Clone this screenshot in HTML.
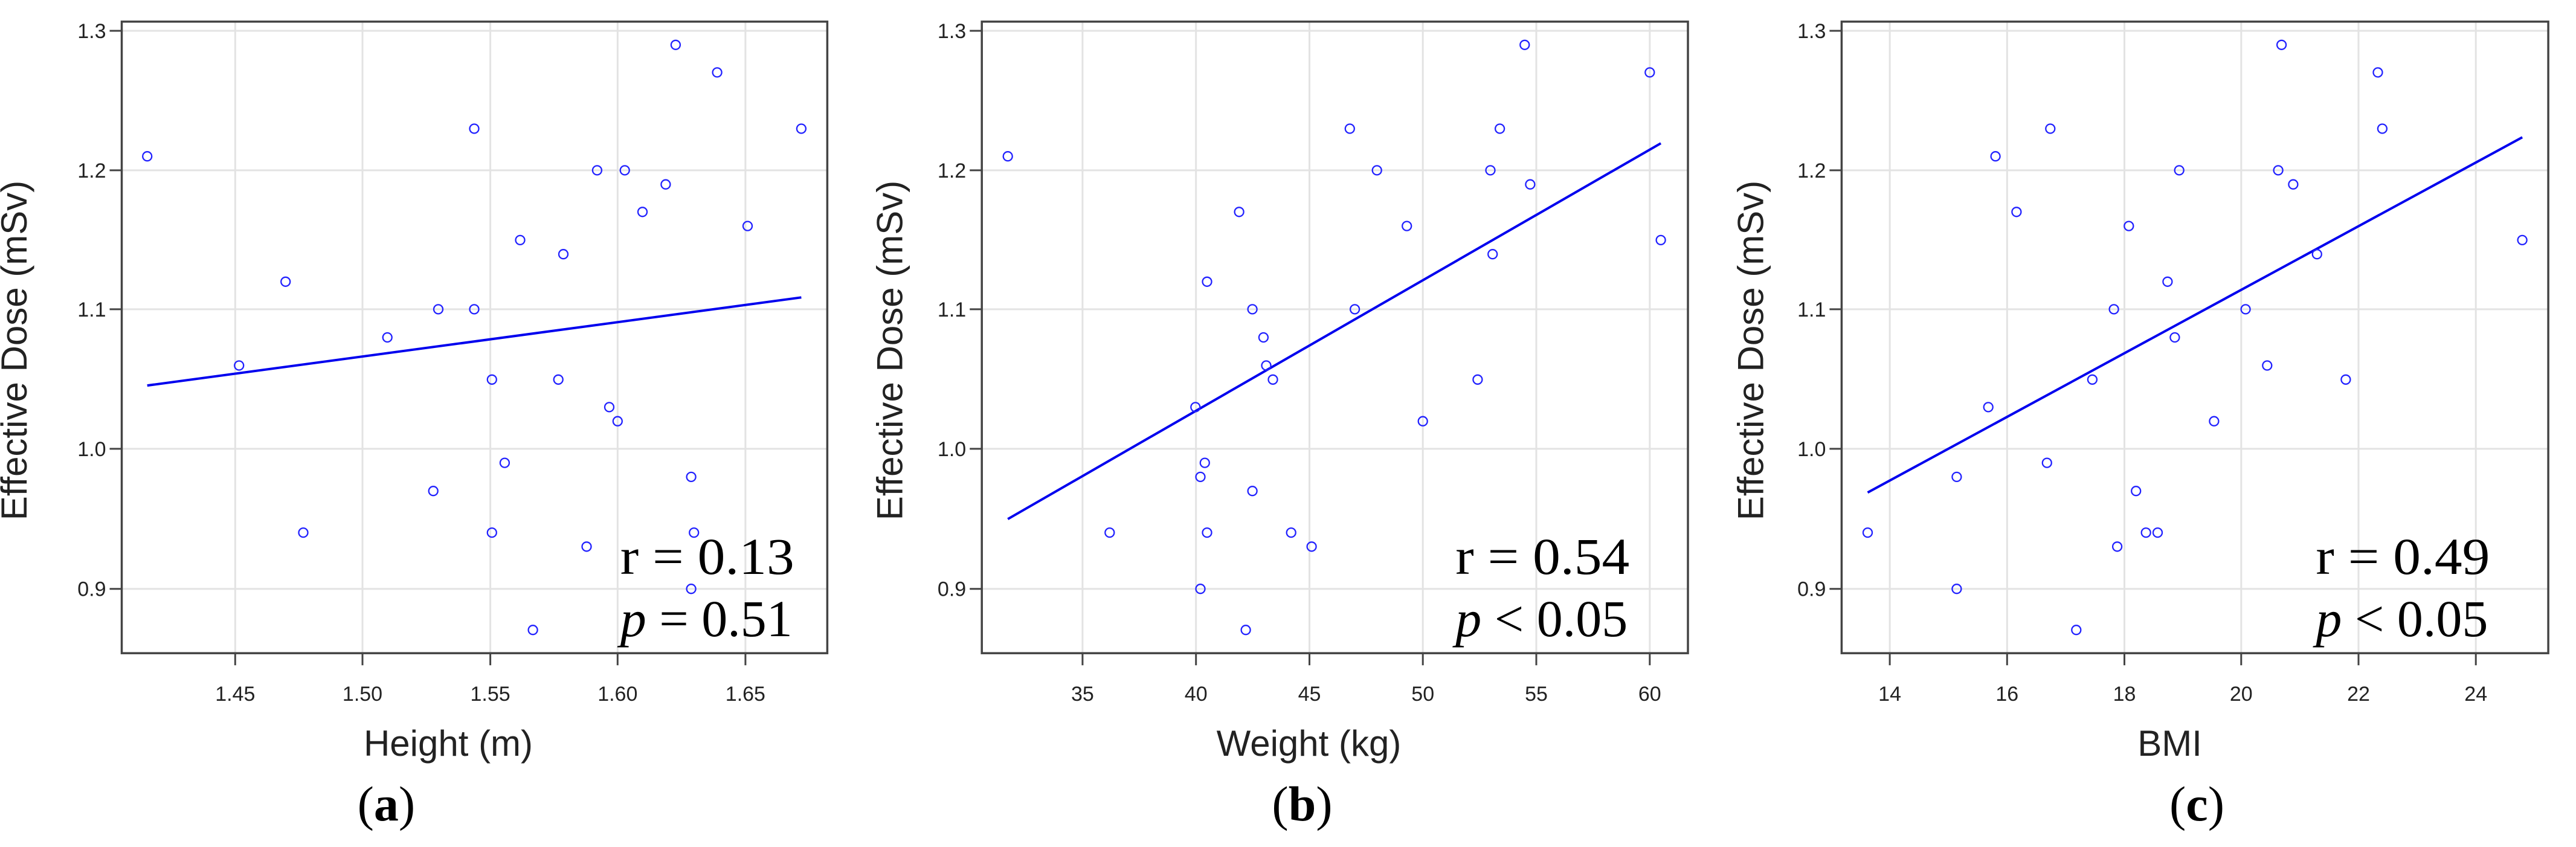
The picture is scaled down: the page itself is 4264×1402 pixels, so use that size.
<!DOCTYPE html>
<html><head><meta charset="utf-8">
<style>html,body{margin:0;padding:0;background:#fff;}svg{display:block;}</style>
</head><body>
<svg id="s" xmlns="http://www.w3.org/2000/svg" width="4264" height="1402" viewBox="0 0 4264 1402"></svg>
<script>
const SX=0.916, SY=0.895;
const panels=[
 {off:0, box:[220,1495], xt:[[425,'1.45'],[655,'1.50'],[886,'1.55'],[1116,'1.60'],[1347,'1.65']],
  pts:[[266,289],[432,676],[516,521],[548,985],[700,624],[783,908],[792,572],[857,238],[857,572],[889,702],[889,985],[912,856],[940,444],[963,1165],[1009,702],[1018,470],[1060,1011],[1079,315],[1101,753],[1116,779],[1129,315],[1161,392],[1203,341],[1221,83],[1249,882],[1254,985],[1249,1089],[1296,134],[1351,418],[1448,238]],
  line:[266,713,1448,550], ylx:48, xl:'Height (m)', xlc:810, lab:'a', labc:698, tx:1121, r:'r = 0.13', p:'= 0.51'},
 {off:1420, box:[224,1500], xt:[[406,'35'],[611,'40'],[816,'45'],[1021,'50'],[1226,'55'],[1431,'60']],
  pts:[[271,289],[455,985],[610,753],[619,882],[619,1089],[627,856],[631,521],[631,985],[689,392],[701,1165],[713,572],[713,908],[733,624],[738,676],[750,702],[783,985],[820,1011],[889,238],[898,572],[938,315],[992,418],[1021,779],[1120,702],[1143,315],[1147,470],[1160,238],[1205,83],[1215,341],[1431,134],[1451,444]],
  line:[271,960,1451,265], ylx:80, xl:'Weight (kg)', xlc:815, lab:'b', labc:803, tx:1080, r:'r = 0.54', p:'< 0.05'},
 {off:2824, box:[245,1522], xt:[[332,'14'],[544,'16'],[756,'18'],[967,'20'],[1179,'22'],[1391,'24']],
  pts:[[292,985],[453,882],[453,1089],[510,753],[523,289],[561,392],[616,856],[622,238],[669,1165],[698,702],[737,572],[743,1011],[764,418],[777,908],[795,985],[816,985],[834,521],[847,624],[855,315],[918,779],[975,572],[1014,676],[1034,315],[1040,83],[1061,341],[1104,470],[1156,702],[1214,134],[1222,238],[1475,444]],
  line:[292,911,1475,254], ylx:103, xl:'BMI', xlc:838, lab:'c', labc:887, tx:1102, r:'r = 0.49', p:'< 0.05'}
];
const yt=[[57,'1.3'],[315,'1.2'],[572,'1.1'],[830,'1.0'],[1089,'0.9']];
let h='';
const sans='font-family="Liberation Sans, DejaVu Sans, sans-serif"';
const serif='font-family="Liberation Serif, DejaVu Serif, serif"';
for(const P of panels){
  const X=v=>(P.off+v*SX).toFixed(1), Y=v=>(v*SY).toFixed(1);
  const L=P.box[0], R=P.box[1], T=40, B=1208;
  // grid
  for(const [gy] of yt) h+=`<line x1="${X(L)}" x2="${X(R)}" y1="${Y(gy)}" y2="${Y(gy)}" stroke="#e3e3e3" stroke-width="3"/>`;
  for(const [gx] of P.xt) h+=`<line x1="${X(gx)}" x2="${X(gx)}" y1="${Y(T)}" y2="${Y(B)}" stroke="#e3e3e3" stroke-width="3"/>`;
  // box
  h+=`<rect x="${X(L)}" y="${Y(T)}" width="${((R-L)*SX).toFixed(1)}" height="${((B-T)*SY).toFixed(1)}" fill="none" stroke="#444" stroke-width="3.5"/>`;
  // ticks
  for(const [gy,t] of yt){
    h+=`<line x1="${X(L)-20}" x2="${X(L)}" y1="${Y(gy)}" y2="${Y(gy)}" stroke="#444" stroke-width="3"/>`;
    h+=`<text x="${X(L)-26}" y="${(+Y(gy)+12).toFixed(1)}" text-anchor="end" font-size="34" fill="#222" ${sans}>${t}</text>`;
  }
  for(const [gx,t] of P.xt){
    h+=`<line x1="${X(gx)}" x2="${X(gx)}" y1="${Y(B)}" y2="${+Y(B)+20}" stroke="#444" stroke-width="3"/>`;
    h+=`<text x="${X(gx)}" y="1160" text-anchor="middle" font-size="34" fill="#222" ${sans}>${t}</text>`;
  }
  // line
  const l=P.line;
  h+=`<line x1="${X(l[0])}" y1="${Y(l[1])}" x2="${X(l[2])}" y2="${Y(l[3])}" stroke="#0000ee" stroke-width="4"/>`;
  // points
  for(const [px,py] of P.pts) h+=`<circle cx="${X(px)}" cy="${Y(py)}" r="7.5" fill="none" stroke="#2222ff" stroke-width="2.3"/>`;
  // stats
  const tx=X(P.tx);
  h+=`<text x="${tx}" y="950" font-size="86" fill="#000" ${serif} textLength="288" lengthAdjust="spacingAndGlyphs">${P.r}</text>`;
  h+=`<text x="${tx}" y="1053" font-size="86" fill="#000" ${serif}><tspan font-style="italic">p</tspan> ${P.p}</text>`;
  // labels
  h+=`<text transform="translate(${X(P.ylx)+20},580) rotate(-90)" text-anchor="middle" font-size="60" fill="#222" ${sans}>Effective Dose (mSv)</text>`;
  h+=`<text x="${X(P.xlc)}" y="1251" text-anchor="middle" font-size="60" fill="#222" ${sans}>${P.xl}</text>`;
  h+=`<text x="${X(P.labc)}" y="1358" text-anchor="middle" font-size="82" fill="#000" ${serif}>(<tspan font-weight="bold">${P.lab}</tspan>)</text>`;
}
document.getElementById('s').innerHTML=h;
</script>
</body></html>
